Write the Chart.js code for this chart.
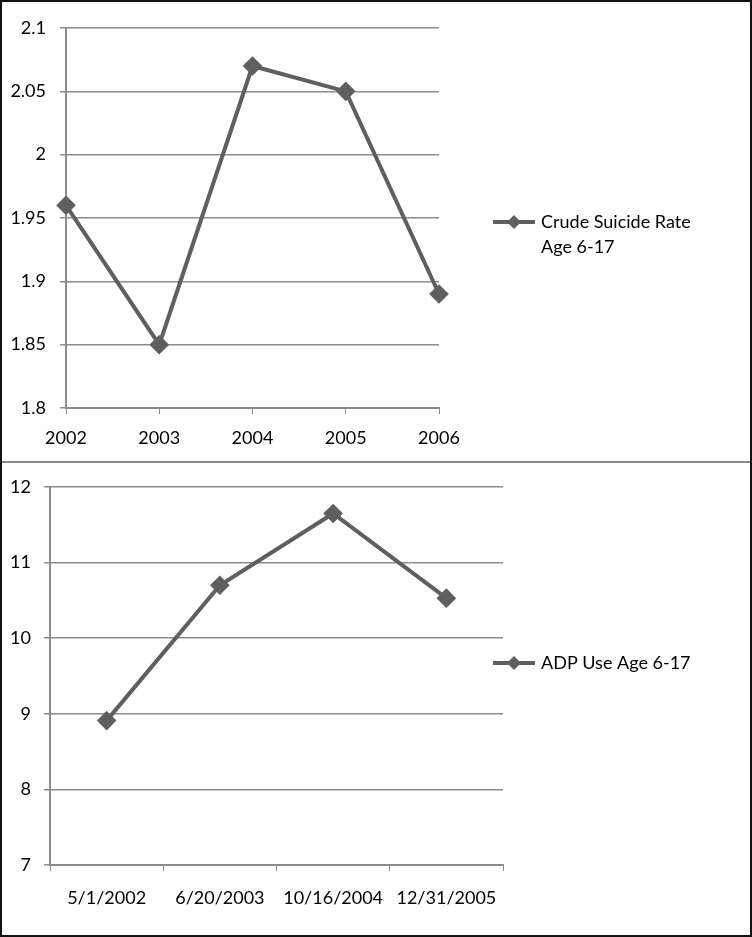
<!DOCTYPE html>
<html>
<head>
<meta charset="utf-8">
<script src="https://cdn.jsdelivr.net/npm/chart.js@4.4.1/dist/chart.umd.min.js"></script>
<style>
  html, body { margin: 0; padding: 0; background: #fff; }
  #frame { position: relative; width: 752px; height: 937px; box-sizing: border-box; border: 2px solid #111; overflow: hidden; }
  #sep { position: absolute; left: 0; top: 459px; width: 752px; height: 2px; background: #888; }
  .panel { position: absolute; left: -2px; width: 752px; }
</style>
</head>
<body>
<div id="frame">
  <div class="panel" style="top:-2px;height:462px"><canvas id="topChart" width="752" height="462"></canvas></div>
  <div id="sep"></div>
  <div class="panel" style="top:461px;height:474px"><canvas id="bottomChart" width="752" height="474"></canvas></div>
</div>
<script>
// top chart data
const years = ['2002', '2003', '2004', '2005', '2006'];
const suicideRate = [1.96, 1.85, 2.07, 2.05, 1.89];
const suicideLabel = ['Crude Suicide Rate', 'Age 6-17'];

// bottom chart data
const adpDates = ['5/1/2002', '6/20/2003', '10/16/2004', '12/31/2005'];
const adpUse = [8.91, 10.7, 11.65, 10.53];
const adpLabel = ['ADP Use Age 6-17'];

const LINE = '#5f5f5f';
const GRID = '#8c8c8c';
const FONT = { family: 'Lato, "Open Sans", sans-serif', size: 18 };

// legend drawn beside the plot, text can wrap onto two lines
const sideLegend = {
  id: 'sideLegend',
  afterDraw(chart, args, opts) {
    const ctx = chart.ctx;
    const x = opts.x, y = opts.y;
    ctx.save();
    ctx.strokeStyle = LINE;
    ctx.lineWidth = 4;
    ctx.beginPath();
    ctx.moveTo(x, y);
    ctx.lineTo(x + 42, y);
    ctx.stroke();
    ctx.fillStyle = LINE;
    ctx.beginPath();
    ctx.moveTo(x + 21, y - 7);
    ctx.lineTo(x + 28, y);
    ctx.lineTo(x + 21, y + 7);
    ctx.lineTo(x + 14, y);
    ctx.closePath();
    ctx.fill();
    ctx.fillStyle = '#000';
    ctx.font = FONT.size + 'px ' + FONT.family;
    ctx.textBaseline = 'middle';
    opts.lines.forEach((t, i) => ctx.fillText(t, x + 48, y + i * 25));
    ctx.restore();
  }
};

function makeChart(id, labels, values, cfg) {
  new Chart(document.getElementById(id), {
    type: 'line',
    data: {
      labels: labels,
      datasets: [{
        data: values,
        borderColor: LINE,
        backgroundColor: LINE,
        borderWidth: 4,
        pointStyle: 'rectRot',
        pointRadius: 7,
        pointHoverRadius: 7,
        tension: 0
      }]
    },
    options: {
      responsive: false,
      animation: false,
      layout: { padding: cfg.padding },
      plugins: {
        legend: { display: false },
        tooltip: { enabled: false },
        sideLegend: cfg.legend
      },
      scales: {
        x: {
          offset: cfg.offset,
          grid: { offset: cfg.offset, drawOnChartArea: false, color: GRID, tickLength: 6, tickColor: GRID },
          border: { color: GRID, width: 2 },
          ticks: { color: '#000', font: FONT, maxRotation: 0, autoSkip: false, padding: cfg.xPad },
          afterFit(s) { s.height = cfg.xHeight; }
        },
        y: {
          min: cfg.min, max: cfg.max,
          grid: { color: GRID, lineWidth: 1.5, tickLength: 6 },
          border: { color: GRID, width: 2 },
          ticks: { stepSize: cfg.step, color: '#000', font: FONT, padding: cfg.yPad,
                   callback: v => String(+v.toFixed(2)) },
          afterFit(s) { s.width = cfg.yWidth; }
        }
      }
    },
    plugins: [sideLegend]
  });
}

makeChart('topChart', years, suicideRate, {
  padding: { top: 28, right: 313, left: 0, bottom: 0 },
  offset: false, min: 1.8, max: 2.1, step: 0.05,
  yWidth: 66, xHeight: 54, yPad: 14, xPad: 13,
  legend: { x: 493, y: 222, lines: suicideLabel }
});

makeChart('bottomChart', adpDates, adpUse, {
  padding: { top: 24, right: 249, left: 0, bottom: 0 },
  offset: true, min: 7, max: 12, step: 1,
  yWidth: 50, xHeight: 72, yPad: 13, xPad: 16,
  legend: { x: 493, y: 200, lines: adpLabel }
});
</script>
</body>
</html>
